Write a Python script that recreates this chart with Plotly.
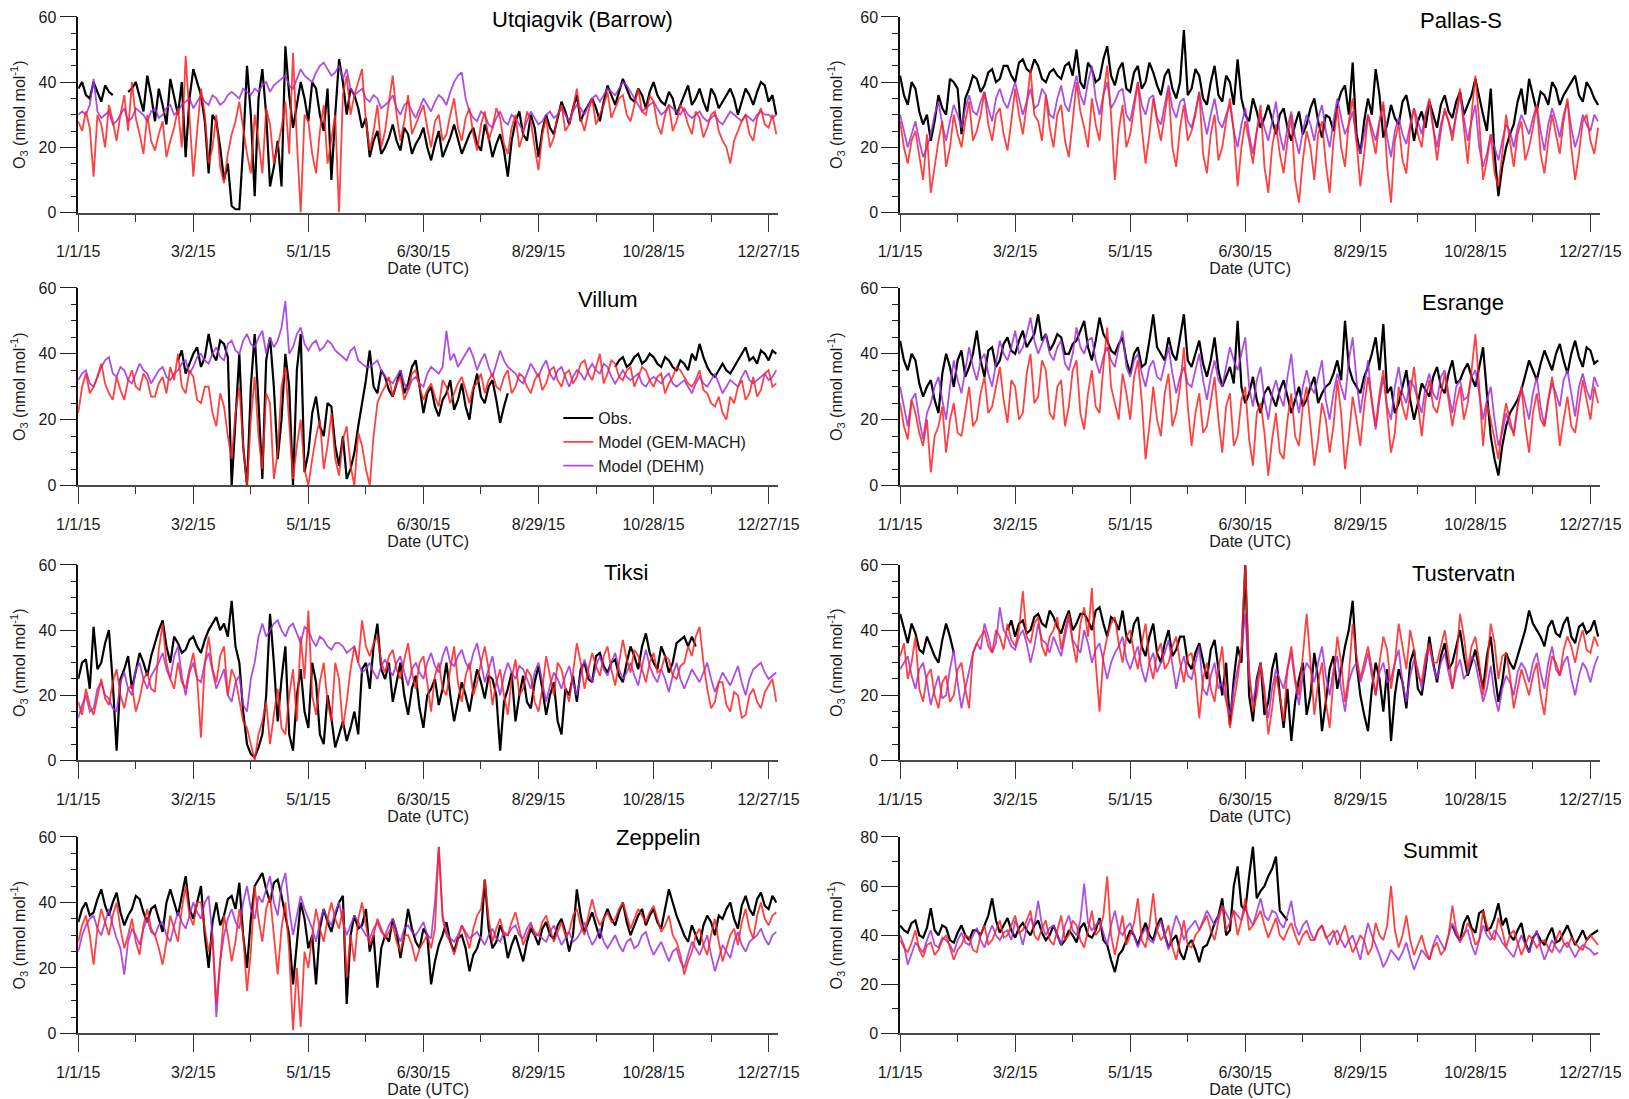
import pandas as pd
import plotly.graph_objects as go

# 2-day sampling of the hourly O3 records
dates = pd.date_range("2015-01-01", periods=183, freq="2D")
N = None

barrow_obs = [38, 40, 36, 35, 40, 37, 34, 39, 37, 36, N, N, N, 37, 38, 40, 35, 31, 42, 36,
              28, 38, 33, 27, 41, 36, 30, 40, 17, 35, 44, 40, 36, 28, 12, 30, 28, 20, 10, 15,
              2, 1, 1, 20, 45, 30, 5, 35, 44, 30, 8, 14, 22, 8, 51, 36, 26, 33, 40, 35,
              28, 40, 38, 30, 25, 38, 10, 30, 47, 40, 30, 38, 36, 32, 26, 29, 17, 22, 25, 18,
              20, 23, 27, 22, 19, 26, 24, 18, 21, 23, 26, 20, 16, 21, 25, 17, 20, 23, 27, 22,
              18, 21, 24, 26, 21, 19, 27, 23, 17, 21, 24, 19, 11, 22, 28, 31, 24, 22, 30, 26,
              17, 25, 30, 26, 24, 29, 34, 31, 27, 32, 36, 28, 31, 33, 35, 32, 28, 34, 39, 36,
              33, 37, 41, 38, 35, 34, 38, 36, 32, 37, 40, 36, 34, 33, 37, 35, 30, 33, 36, 39,
              33, 35, 38, 34, 31, 38, 36, 32, 34, 36, 38, 35, 30, 34, 38, 36, 33, 37, 40, 39,
              34, 36, 30]
barrow_gem = [28, 25, 31, 26, 11, 30, 27, 20, 33, 28, 22, 30, 36, 25, 40, 29, 24, 18, 30, 22,
              19, 24, 28, 17, 22, 26, 32, 20, 48, 30, 11, 25, 38, 30, 15, 20, 30, 14, 9, 18,
              24, 28, 34, 26, 18, 12, 30, 22, 12, 32, 27, 15, 20, 26, 34, 18, 49, 22, 0, 30,
              28, 18, 12, 25, 33, 15, 22, 30, 0, 36, 42, 30, 36, 40, 44, 28, 19, 25, 33, 20,
              25, 34, 42, 30, 22, 28, 36, 24, 27, 30, 33, 26, 20, 28, 30, 22, 24, 30, 35, 26,
              22, 29, 32, 24, 19, 27, 31, 22, 26, 32, 29, 21, 18, 26, 30, 20, 24, 31, 28, 20,
              13, 24, 29, 20, 23, 30, 33, 25, 27, 32, 38, 29, 25, 31, 35, 27, 30, 33, 37, 29,
              32, 35, 36, 30, 28, 33, 38, 31, 30, 36, 34, 27, 24, 30, 33, 25, 28, 33, 31, 27,
              24, 31, 29, 23, 26, 30, 31, 25, 22, 20, 15, 22, 25, 28, 30, 24, 22, 29, 32, 27,
              26, 30, 24]
barrow_dehm = [30, 31, 30, 33, 41, 31, 29, 30, 31, 27, 28, 30, 32, 28, 29, 32, 31, 30, 28, 31,
               32, 29, 30, 32, 33, 30, 31, 33, 34, 35, 32, 34, 36, 34, 33, 36, 35, 33, 34, 36,
               37, 36, 35, 38, 37, 36, 38, 37, 39, 40, 37, 39, 40, 41, 42, 39, 38, 41, 44, 42,
               41, 40, 43, 45, 46, 44, 42, 43, 45, 41, 44, 38, 36, 37, 38, 35, 34, 36, 35, 32,
               33, 34, 36, 32, 30, 33, 34, 31, 29, 32, 35, 33, 31, 34, 36, 35, 33, 37, 40, 42,
               43, 35, 31, 29, 28, 31, 30, 27, 26, 29, 31, 28, 27, 30, 29, 27, 25, 28, 31, 29,
               27, 28, 30, 31, 29, 30, 32, 30, 28, 31, 33, 32, 30, 33, 35, 36, 34, 36, 38, 37,
               36, 38, 40, 39, 37, 35, 33, 31, 32, 33, 34, 32, 30, 31, 33, 32, 31, 30, 32, 30,
               29, 30, 31, 29, 28, 29, 30, 28, 27, 29, 31, 30, 29, 28, 30, 29, 28, 30, 31, 30,
               30, 29, 30]

pallas_obs = [42, 36, 33, 40, 38, 31, 27, 30, 22, 28, 36, 32, 30, 41, 40, 38, 24, 35, 38, 42,
              41, 37, 39, 43, 44, 40, 41, 45, 45, 42, 40, 46, 47, 44, 43, 47, 45, 41, 40, 43,
              44, 42, 41, 45, 46, 42, 50, 40, 38, 46, 44, 40, 41, 47, 51, 42, 39, 44, 46, 38,
              37, 43, 45, 38, 40, 46, 43, 39, 36, 42, 44, 38, 35, 40, 56, 36, 38, 44, 42, 35,
              33, 40, 45, 36, 34, 42, 40, 33, 47, 35, 30, 28, 35, 31, 26, 29, 33, 28, 24, 30,
              32, 26, 22, 27, 31, 24, 27, 32, 35, 28, 23, 30, 29, 25, 33, 37, 39, 30, 46, 24,
              18, 28, 35, 30, 44, 36, 23, 27, 33, 29, 27, 34, 36, 30, 22, 28, 31, 26, 34, 30,
              26, 33, 36, 31, 29, 34, 37, 30, 33, 36, 41, 35, 30, 25, 38, 18, 5, 14, 20, 24,
              27, 34, 38, 30, 41, 36, 31, 37, 36, 33, 40, 38, 33, 36, 38, 40, 42, 36, 34, 40,
              38, 35, 33]
pallas_gem = [28, 20, 15, 22, 25, 17, 10, 24, 6, 14, 22, 28, 14, 20, 30, 24, 20, 28, 34, 22,
              25, 30, 37, 27, 22, 30, 32, 24, 19, 28, 38, 30, 24, 33, 44, 30, 28, 22, 36, 26,
              20, 30, 33, 22, 17, 28, 40, 31, 26, 20, 35, 27, 22, 36, 45, 30, 10, 25, 33, 20,
              24, 32, 40, 26, 15, 24, 35, 28, 22, 30, 38, 20, 14, 26, 33, 22, 25, 30, 37, 18,
              12, 24, 30, 16, 20, 28, 35, 25, 8, 20, 28, 22, 15, 25, 33, 14, 6, 20, 27, 18,
              12, 22, 30, 10, 3, 16, 25, 20, 10, 24, 28, 15, 6, 22, 32, 20, 14, 28, 35, 22,
              8, 18, 30, 24, 18, 28, 34, 14, 3, 22, 27, 16, 12, 26, 32, 24, 20, 30, 35, 26,
              16, 25, 32, 28, 22, 30, 38, 26, 15, 30, 42, 28, 10, 16, 24, 12, 8, 18, 30, 22,
              14, 24, 28, 16, 20, 26, 33, 18, 12, 22, 30, 24, 18, 28, 35, 20, 10, 18, 28, 30,
              22, 18, 26]
pallas_dehm = [30, 25, 20, 24, 28, 22, 17, 20, 24, 30, 34, 27, 22, 28, 33, 30, 26, 32, 36, 31,
               30, 34, 37, 32, 28, 35, 38, 34, 32, 36, 40, 35, 30, 34, 38, 32, 33, 38, 36, 30,
               29, 35, 39, 33, 31, 37, 42, 36, 33, 40, 45, 35, 30, 36, 40, 32, 34, 37, 38, 30,
               28, 34, 40, 33, 30, 35, 36, 29, 27, 33, 39, 32, 29, 34, 35, 28, 26, 31, 37, 30,
               24, 30, 35, 28, 26, 30, 33, 25, 20, 27, 32, 24, 18, 25, 30, 26, 22, 28, 34, 24,
               19, 26, 31, 23, 18, 25, 30, 27, 22, 29, 33, 25, 20, 28, 35, 29, 24, 27, 31, 22,
               18, 24, 30, 26, 22, 28, 33, 23, 17, 25, 29, 24, 21, 27, 32, 28, 24, 30, 34, 26,
               20, 27, 31, 28, 24, 30, 36, 29, 22, 28, 33, 20, 14, 18, 24, 20, 16, 22, 27, 25,
               20, 26, 30, 27, 24, 29, 33, 25, 19, 27, 32, 28, 23, 30, 34, 26, 20, 24, 30, 27,
               25, 30, 28]

villum_obs = ([N] * 26 +
              [38, 41, 34, 37, 40, 42, 36, 39, 46, 40, 38, 44, 43, 39, 0, 20, 40, 12, 0, 30,
               46, 25, 2, 38, 45, 30, 8, 20, 40, 30, 0, 35, 46, 4, 10, 22, 27, 18, 15, 25,
               24, 12, 6, 15, 2, 5, 10, 18, 25, 32, 41, 30, 28, 35, 33, 29, 27, 31, 35, 28,
               31, 36, 38, 30, 22, 28, 30, 24, 21, 26, 28, 32, 23, 26, 31, 24, 20, 29, 34, 27,
               25, 30, 32, 26, 19, 24, 28] +
              [N] * 27 +
              [36, 38, 39, 36, 37, 39, 40, 37, 38, 40, 39, 37, 36, 39, 38, 36, 35, 38, 37, 35,
               40, 38, 43, 39, 36, 34, 33, 35, 37, 35, 34, 36, 38, 40, 42, 38, 39, 37, 41, 40,
               38, 41, 40])
villum_gem = [22, 30, 34, 28, 30, 33, 37, 31, 28, 26, 33, 29, 26, 32, 35, 30, 29, 34, 32, 27,
              27, 31, 33, 28, 36, 32, 40, 30, 28, 35, 33, 26, 25, 30, 30, 22, 18, 28, 24, 15,
              8, 22, 30, 12, 0, 20, 33, 15, 5, 28, 25, 2, 10, 30, 36, 18, 2, 12, 20, 5,
              0, 8, 15, 20, 5, 12, 22, 8, 3, 14, 18, 6, 0, 16, 12, 5, 0, 15, 25, 28,
              30, 33, 27, 31, 33, 26, 29, 34, 35, 30, 26, 29, 31, 27, 24, 32, 30, 25, 28, 31,
              33, 29, 25, 30, 31, 34, 28, 32, 34, 30, 29, 33, 35, 28, 30, 34, 33, 30, 28, 32,
              34, 29, 31, 35, 36, 32, 30, 34, 35, 31, 33, 37, 38, 34, 32, 36, 40, 31, 34, 38,
              37, 33, 32, 35, 36, 30, 33, 36, 35, 32, 30, 33, 34, 28, 31, 33, 36, 35, 33, 31,
              30, 32, 35, 29, 28, 25, 24, 27, 22, 20, 27, 25, 30, 32, 26, 28, 33, 27, 29, 34,
              35, 30, 31]
villum_dehm = [32, 34, 35, 31, 30, 33, 36, 38, 39, 34, 33, 36, 35, 32, 31, 34, 37, 35, 34, 31,
               33, 35, 36, 33, 32, 34, 35, 37, 38, 34, 36, 39, 40, 38, 37, 40, 42, 39, 38, 43,
               44, 41, 40, 44, 46, 43, 42, 45, 47, 40, 45, 42, 44, 48, 56, 40, 42, 46, 48, 43,
               41, 43, 44, 41, 42, 44, 43, 41, 40, 39, 38, 41, 42, 38, 37, 36, 36, 37, 38, 35,
               33, 32, 31, 33, 35, 31, 29, 32, 33, 31, 30, 34, 36, 35, 34, 36, 47, 38, 40, 36,
               38, 40, 42, 39, 35, 38, 40, 36, 33, 37, 41, 38, 36, 35, 34, 32, 31, 34, 37, 35,
               33, 36, 38, 34, 32, 35, 36, 33, 30, 33, 35, 34, 32, 35, 37, 35, 34, 37, 36, 33,
               31, 33, 35, 33, 32, 33, 34, 31, 30, 32, 33, 32, 31, 33, 34, 31, 30, 31, 32, 30,
               28, 31, 33, 31, 30, 32, 34, 31, 28, 30, 32, 31, 30, 33, 35, 32, 31, 32, 33, 34,
               32, 33, 35]

esrange_obs = [44, 38, 35, 40, 38, 31, 27, 30, 32, 26, 22, 34, 40, 36, 30, 38, 41, 33, 36, 40,
               47, 38, 33, 41, 42, 36, 38, 43, 45, 41, 40, 44, 47, 42, 44, 46, 52, 44, 46, 41,
               43, 46, 45, 40, 40, 43, 44, 47, 50, 42, 38, 44, 51, 46, 44, 41, 40, 43, 45, 38,
               34, 40, 42, 36, 37, 44, 52, 42, 40, 38, 45, 40, 38, 45, 52, 38, 36, 40, 44, 37,
               33, 38, 45, 35, 30, 33, 36, 31, 50, 30, 25, 28, 33, 26, 22, 28, 30, 27, 24, 29,
               32, 27, 22, 26, 30, 24, 26, 30, 33, 25, 28, 30, 31, 34, 38, 32, 50, 36, 32, 30,
               28, 33, 36, 40, 45, 35, 49, 28, 30, 22, 25, 30, 35, 26, 20, 25, 31, 29, 27, 33,
               36, 30, 28, 34, 38, 31, 32, 35, 37, 33, 30, 36, 42, 28, 15, 8, 3, 12, 18, 22,
               24, 26, 29, 34, 38, 35, 32, 37, 41, 38, 35, 40, 43, 38, 34, 40, 44, 39, 36, 42,
               41, 37, 38]
esrange_gem = [25, 18, 14, 26, 22, 16, 12, 20, 4, 15, 18, 24, 10, 20, 25, 16, 15, 22, 30, 18,
               20, 28, 33, 22, 24, 30, 36, 26, 19, 32, 30, 20, 22, 34, 40, 25, 27, 38, 35, 22,
               20, 30, 32, 18, 24, 35, 38, 22, 17, 28, 35, 24, 22, 36, 48, 30, 25, 20, 34, 28,
               20, 33, 38, 26, 8, 18, 30, 20, 15, 28, 34, 18, 22, 30, 42, 24, 12, 22, 28, 16,
               18, 26, 33, 20, 10, 24, 28, 12, 15, 26, 30, 14, 6, 22, 25, 16, 3, 14, 22, 10,
               8, 20, 28, 15, 12, 24, 30, 18, 6, 14, 25, 20, 10, 18, 32, 22, 5, 15, 27, 20,
               12, 24, 33, 26, 18, 28, 35, 22, 10, 16, 30, 24, 20, 28, 36, 25, 15, 26, 32, 24,
               22, 28, 34, 26, 18, 25, 30, 20, 25, 35, 46, 30, 12, 25, 20, 14, 8, 18, 25, 20,
               15, 24, 30, 18, 10, 22, 28, 20, 18, 26, 33, 25, 12, 20, 27, 18, 16, 24, 32, 26,
               20, 30, 25]
esrange_dehm = [30, 24, 18, 26, 28, 20, 14, 22, 25, 30, 33, 26, 20, 30, 38, 32, 28, 35, 42, 36,
                32, 38, 40, 34, 30, 37, 44, 40, 38, 42, 47, 40, 42, 46, 51, 44, 40, 43, 46, 40,
                38, 42, 44, 37, 35, 40, 48, 42, 40, 44, 45, 38, 34, 39, 42, 38, 36, 42, 47, 36,
                33, 38, 40, 34, 30, 36, 38, 33, 32, 37, 42, 34, 28, 33, 36, 31, 30, 35, 40, 32,
                26, 33, 38, 32, 30, 36, 42, 38, 35, 40, 45, 30, 24, 32, 36, 26, 20, 28, 32, 27,
                24, 33, 40, 28, 22, 30, 35, 30, 28, 33, 38, 26, 20, 28, 34, 30, 26, 38, 45, 32,
                22, 30, 38, 25, 17, 26, 33, 24, 20, 30, 36, 28, 25, 32, 30, 26, 22, 30, 34, 28,
                26, 33, 35, 28, 22, 30, 32, 26, 27, 33, 35, 28, 20, 26, 30, 20, 12, 16, 22, 18,
                16, 24, 30, 25, 20, 28, 33, 24, 18, 26, 31, 28, 24, 32, 35, 28, 21, 30, 34, 29,
                26, 33, 30]

tiksi_obs = ([25, 30, 31, 22, 41, 28, 30, 36, 40, 24, 3, 25, 28, 32, 22, 27, 33, 30, 26, 32,
              36, 40, 43, 35, 30, 38, 36, 33, 34, 37, 38, 35, 33, 37, 40, 42, 44, 40, 42, 38,
              49, 35, 30, 15, 5, 2, 1, 4, 8, 20, 45, 30, 12, 25, 35, 8, 3, 20, 28, 15,
              10, 30, 24, 8, 5, 20, 13, 4, 8, 12, 6, 10, 15, 8, 28, 30, 22, 35, 42, 28,
              25, 30, 18, 24, 30, 20, 14, 22, 26, 16, 10, 20, 22, 25, 17, 22, 30, 20, 12, 18,
              24, 20, 15, 22, 28, 24, 19, 26, 25, 20, 3, 18, 22, 27, 12, 20, 26, 18, 16, 24,
              29, 22, 14, 20, 24, 12, 8, 22, 20, 26, 18, 28, 30, 25, 24, 32, 33, 29, 27, 30,
              31, 26, 24, 30, 35, 32, 28, 35, 39, 33, 30, 28, 35, 32, 27, 30, 36, 37, 38, 35,
              38, 35] + [N] * 21)
tiksi_gem = [18, 14, 22, 17, 14, 20, 25, 19, 17, 24, 28, 20, 16, 22, 23, 15, 19, 25, 27, 22,
             21, 34, 42, 30, 25, 22, 30, 24, 22, 28, 33, 25, 7, 30, 38, 28, 24, 32, 35, 20,
             28, 25, 18, 12, 10, 5, 0, 8, 12, 18, 5, 14, 22, 10, 8, 20, 28, 12, 38, 25,
             46, 20, 14, 24, 30, 18, 12, 30, 25, 10, 18, 28, 35, 30, 43, 35, 32, 36, 38, 30,
             27, 32, 34, 28, 25, 31, 36, 27, 22, 30, 32, 24, 15, 26, 30, 22, 20, 28, 35, 24,
             18, 26, 30, 20, 24, 30, 35, 28, 17, 24, 28, 20, 14, 25, 31, 20, 22, 28, 26, 18,
             15, 22, 32, 26, 20, 30, 28, 22, 18, 27, 36, 30, 22, 28, 33, 29, 26, 32, 35, 28,
             23, 30, 37, 31, 27, 34, 32, 28, 24, 30, 33, 27, 28, 32, 31, 26, 25, 29, 30, 35,
             32, 38, 41, 30, 22, 16, 18, 24, 24, 17, 15, 21, 20, 13, 14, 20, 22, 18, 16, 21,
             23, 25, 18]
tiksi_dehm = [13, 17, 20, 15, 16, 22, 24, 20, 19, 16, 15, 24, 27, 22, 20, 28, 30, 25, 22, 26,
              28, 30, 33, 28, 25, 32, 35, 26, 20, 27, 30, 25, 24, 30, 33, 27, 22, 25, 28, 20,
              18, 24, 26, 17, 15, 25, 30, 38, 42, 38, 40, 42, 43, 40, 38, 41, 42, 39, 36, 41,
              40, 37, 35, 38, 37, 35, 34, 36, 36, 35, 33, 34, 35, 30, 27, 28, 30, 27, 25, 29,
              31, 28, 26, 30, 32, 27, 23, 28, 30, 27, 25, 30, 33, 29, 27, 32, 35, 30, 29, 32,
              34, 30, 28, 33, 36, 30, 24, 28, 32, 25, 20, 26, 30, 27, 25, 29, 28, 25, 22, 27,
              30, 24, 18, 23, 27, 25, 22, 26, 29, 24, 20, 26, 31, 27, 24, 29, 32, 28, 26, 30,
              33, 28, 25, 27, 30, 26, 23, 29, 34, 29, 26, 24, 28, 25, 21, 26, 30, 25, 22, 25,
              28, 26, 24, 27, 30, 25, 21, 24, 27, 25, 23, 26, 29, 24, 20, 25, 28, 29, 30, 27,
              25, 26, 27]

tuster_obs = [45, 40, 36, 42, 39, 34, 33, 38, 35, 32, 30, 37, 42, 38, 33, N, N, N, N, N,
              N, N, N, N, N, N, N, N, 40, 43, 38, 42, 43, 39, 40, 44, 45, 42, 41, 46,
              44, 41, 39, 43, 46, 40, 42, 45, 45, 43, 40, 46, 47, 42, 38, 44, 43, 40, 46, 38,
              36, 42, 44, 35, 32, 38, 42, 33, 30, 36, 40, 32, 34, 38, 38, 30, 28, 33, 36, 30,
              25, 34, 37, 28, 20, 30, 11, 25, 35, 30, 60, 20, 12, 25, 30, 14, 18, 28, 33, 20,
              10, 22, 6, 18, 25, 30, 14, 20, 33, 25, 9, 18, 28, 32, 22, 28, 35, 40, 49, 30,
              20, 14, 9, 22, 30, 25, 15, 28, 6, 20, 28, 24, 16, 30, 34, 22, 20, 28, 38, 30,
              24, 32, 36, 28, 30, 35, 40, 32, 26, 30, 34, 28, 22, 32, 38, 27, 18, 24, 33, 30,
              28, 32, 36, 40, 46, 42, 40, 38, 35, 41, 43, 39, 38, 42, 44, 38, 36, 41, 42, 39,
              40, 43, 38]
tuster_gem = [32, 36, 25, 30, 38, 22, 18, 26, 28, 20, 16, 24, 26, 18, 20, 28, 30, 22, 16, 33,
              36, 38, 40, 35, 33, 40, 38, 34, 42, 37, 35, 40, 52, 38, 36, 42, 44, 35, 32, 38,
              40, 44, 34, 40, 45, 36, 30, 42, 47, 38, 53, 30, 15, 32, 38, 42, 44, 36, 30, 38,
              40, 33, 28, 36, 42, 30, 25, 33, 36, 28, 30, 35, 38, 30, 24, 32, 33, 26, 13, 25,
              30, 22, 18, 28, 35, 20, 10, 18, 25, 35, 60, 28, 15, 20, 30, 22, 8, 16, 26, 20,
              12, 28, 35, 25, 20, 32, 45, 30, 14, 24, 30, 18, 10, 25, 38, 30, 18, 26, 42, 32,
              25, 30, 35, 28, 20, 30, 38, 34, 22, 30, 42, 35, 28, 40, 34, 26, 24, 32, 36, 30,
              30, 35, 40, 32, 22, 30, 45, 38, 28, 35, 38, 30, 20, 28, 42, 36, 25, 32, 33, 26,
              16, 22, 28, 24, 20, 26, 30, 20, 14, 25, 32, 30, 26, 34, 38, 35, 30, 36, 40, 34,
              33, 38, 35]
tuster_dehm = [28, 30, 32, 26, 22, 28, 30, 24, 17, 22, 26, 19, 20, 28, 34, 24, 16, 22, 28, 33,
               36, 34, 42, 38, 33, 36, 47, 40, 38, 35, 34, 38, 40, 36, 30, 35, 42, 37, 36, 33,
               38, 35, 32, 38, 44, 37, 35, 33, 40, 36, 30, 34, 36, 30, 25, 30, 33, 35, 38, 31,
               28, 32, 35, 28, 24, 30, 33, 27, 30, 33, 37, 30, 22, 28, 32, 26, 25, 30, 35, 22,
               20, 26, 30, 22, 24, 18, 14, 22, 28, 34, 45, 25, 18, 24, 30, 20, 13, 22, 28, 25,
               22, 28, 33, 24, 17, 26, 30, 28, 24, 30, 35, 26, 20, 28, 32, 22, 15, 24, 28, 30,
               24, 28, 33, 26, 20, 27, 30, 24, 25, 30, 34, 24, 18, 26, 31, 28, 22, 30, 35, 29,
               25, 30, 33, 27, 22, 28, 31, 25, 27, 32, 30, 24, 18, 22, 29, 20, 15, 22, 26, 24,
               20, 27, 30, 28, 24, 30, 33, 27, 22, 30, 35, 28, 26, 30, 32, 25, 20, 26, 30, 28,
               24, 29, 32]

zepp_obs = [34, 38, 40, 36, 37, 41, 44, 39, 36, 40, 43, 37, 33, 36, 38, 42, 41, 37, 34, 38,
            39, 35, 31, 40, 44, 40, 36, 42, 48, 38, 35, 40, 45, 30, 20, 34, 40, 33, 36, 41,
            42, 38, 46, 30, 20, 35, 45, 47, 49, 44, 40, 46, 47, 42, 36, 30, 15, 28, 40, 35,
            26, 30, 15, 32, 38, 34, 31, 36, 40, 42, 9, 30, 36, 32, 33, 38, 25, 30, 14, 26,
            30, 28, 35, 31, 23, 30, 38, 32, 28, 26, 32, 30, 15, 22, 27, 30, 34, 28, 25, 29,
            30, 26, 19, 24, 26, 30, 47, 32, 26, 28, 33, 30, 23, 27, 30, 26, 22, 28, 32, 30,
            27, 32, 34, 30, 29, 33, 35, 31, 25, 30, 44, 36, 31, 34, 37, 33, 29, 35, 38, 35,
            33, 37, 40, 34, 30, 33, 36, 38, 33, 36, 38, 34, 32, 38, 44, 40, 36, 33, 30, 28,
            33, 30, 27, 33, 36, 34, 30, 36, 35, 38, 40, 35, 32, 39, 42, 38, 36, 41, 43, 39,
            38, 42, 40]
zepp_gem = [28, 33, 36, 30, 21, 32, 38, 34, 30, 36, 40, 32, 26, 30, 35, 28, 24, 33, 38, 32,
            30, 26, 21, 28, 36, 32, 28, 38, 45, 36, 33, 40, 40, 32, 25, 30, 9, 22, 36, 30,
            22, 28, 38, 30, 13, 25, 45, 35, 28, 38, 42, 30, 18, 32, 40, 25, 1, 20, 2, 25,
            20, 30, 38, 32, 28, 35, 40, 35, 32, 38, 17, 30, 22, 35, 40, 33, 27, 30, 35, 32,
            29, 31, 33, 28, 25, 30, 30, 27, 22, 26, 28, 30, 26, 32, 57, 35, 30, 28, 24, 29,
            33, 30, 26, 32, 36, 38, 47, 35, 28, 32, 35, 30, 30, 34, 37, 32, 27, 30, 33, 31,
            30, 34, 36, 32, 28, 31, 34, 30, 31, 36, 38, 33, 30, 36, 41, 36, 33, 35, 37, 34,
            35, 38, 40, 36, 32, 35, 38, 36, 34, 37, 39, 35, 31, 33, 36, 30, 28, 24, 18, 22,
            25, 30, 32, 27, 24, 30, 35, 28, 22, 26, 30, 32, 27, 34, 38, 32, 29, 36, 40, 35,
            33, 36, 37]
zepp_dehm = [25, 30, 33, 35, 36, 32, 30, 34, 38, 33, 29, 26, 18, 28, 32, 30, 27, 32, 35, 31,
             30, 33, 34, 30, 28, 33, 37, 34, 32, 36, 40, 37, 35, 40, 42, 30, 5, 22, 30, 35,
             38, 34, 32, 40, 45, 38, 35, 42, 40, 44, 48, 40, 36, 45, 49, 38, 30, 36, 42, 38,
             35, 32, 28, 34, 38, 35, 33, 37, 40, 34, 30, 33, 36, 34, 32, 30, 29, 32, 34, 31,
             30, 33, 35, 31, 28, 32, 33, 31, 30, 32, 34, 30, 29, 40, 57, 36, 31, 29, 28, 30,
             33, 31, 29, 30, 31, 29, 27, 30, 32, 29, 28, 31, 30, 32, 33, 30, 29, 32, 34, 30,
             30, 29, 28, 31, 33, 30, 27, 29, 31, 28, 29, 31, 34, 30, 27, 29, 32, 28, 26, 28,
             30, 27, 25, 28, 29, 26, 27, 30, 31, 27, 24, 26, 28, 25, 22, 25, 26, 22, 20, 24,
             28, 26, 24, 27, 30, 24, 19, 23, 27, 25, 23, 28, 31, 27, 25, 28, 29, 30, 32, 29,
             27, 30, 31]

summit_obs = ([44, 42, 41, 45, 46, 40, 39, 43, 51, 42, 40, 44, 43, 38, 37, 41, 44, 40, 38, 42,
               42, 40, 44, 48, 55, 46, 41, 44, 47, 42, 39, 43, 45, 42, 40, 44, 46, 41, 38, 40,
               44, 40, 36, 38, 42, 40, 37, 43, 45, 40, 39, 42, 47, 38, 36, 30, 25, 32, 34, 38,
               42, 40, 36, 41, 45, 40, 38, 44, 47, 40, 35, 38, 40, 33, 30, 36, 38, 34, 29, 35,
               36, 40, 45, 48, 55, 40, 42, 60, 68, 52, 50, 64, 76, 55, 58, 60, 64, 67, 72, 50,
               48, 46] +
              [N] * 42 +
              [44, 40, 38, 45, 48, 43, 41, 49, 50, 42, 43, 47, 53, 44, 47, 40, 38, 42, 45, 37,
               33, 39, 41, 38, 36, 40, 43, 37, 38, 41, 44, 40, 36, 39, 42, 38, 40, 41, 42])
summit_gem = [38, 35, 33, 37, 42, 34, 31, 36, 37, 32, 34, 38, 40, 35, 30, 34, 36, 40, 39, 34,
              33, 40, 44, 36, 38, 42, 46, 39, 40, 44, 48, 41, 42, 46, 50, 40, 38, 43, 46, 38,
              36, 42, 48, 38, 40, 46, 44, 38, 35, 42, 50, 40, 42, 48, 64, 40, 32, 40, 48, 36,
              40, 45, 55, 38, 35, 44, 57, 42, 38, 40, 44, 35, 30, 38, 46, 36, 35, 40, 42, 45,
              48, 42, 38, 46, 52, 42, 45, 50, 40, 46, 55, 42, 44, 47, 50, 44, 39, 43, 47, 40,
              38, 42, 45, 40, 36, 40, 42, 38, 38, 42, 44, 39, 40, 42, 36, 40, 44, 38, 33, 36,
              40, 38, 32, 35, 45, 40, 38, 44, 60, 42, 35, 40, 48, 38, 32, 36, 40, 34, 30, 35,
              37, 32, 34, 40, 52, 42, 38, 40, 45, 42, 36, 38, 50, 44, 40, 38, 47, 42, 35, 40,
              42, 37, 32, 36, 40, 38, 35, 37, 38, 35, 33, 38, 42, 37, 35, 39, 37, 35, 34, 38,
              40, 38, 36]
summit_dehm = [40, 36, 28, 33, 37, 35, 33, 38, 42, 36, 35, 39, 38, 36, 33, 38, 41, 37, 36, 40,
               43, 38, 35, 40, 44, 40, 38, 41, 42, 38, 46, 42, 36, 43, 47, 44, 54, 44, 40, 43,
               44, 40, 36, 44, 48, 42, 40, 46, 61, 45, 42, 44, 46, 41, 36, 44, 50, 42, 40, 43,
               45, 40, 35, 40, 43, 38, 37, 42, 46, 40, 34, 42, 48, 44, 38, 42, 44, 46, 42, 46,
               50, 47, 44, 48, 52, 49, 46, 50, 48, 46, 51, 47, 44, 49, 55, 48, 46, 50, 49, 45,
               43, 48, 54, 44, 40, 44, 46, 41, 38, 42, 44, 40, 36, 40, 42, 38, 35, 38, 40, 35,
               30, 38, 45, 40, 36, 32, 27, 30, 34, 32, 30, 33, 37, 31, 26, 30, 34, 32, 30, 36,
               40, 37, 34, 40, 45, 40, 37, 41, 42, 36, 32, 38, 44, 40, 38, 42, 40, 37, 35, 33,
               31, 36, 40, 36, 33, 38, 42, 35, 30, 34, 38, 35, 33, 36, 37, 34, 31, 34, 36, 35,
               34, 32, 33]

stations = ["Utqiagvik (Barrow)", "Pallas-S", "Villum", "Esrange",
            "Tiksi", "Tustervatn", "Zeppelin", "Summit"]
obs_series = [barrow_obs, pallas_obs, villum_obs, esrange_obs,
              tiksi_obs, tuster_obs, zepp_obs, summit_obs]
gem_series = [barrow_gem, pallas_gem, villum_gem, esrange_gem,
              tiksi_gem, tuster_gem, zepp_gem, summit_gem]
dehm_series = [barrow_dehm, pallas_dehm, villum_dehm, esrange_dehm,
               tiksi_dehm, tuster_dehm, zepp_dehm, summit_dehm]
y_max = [60, 60, 60, 60, 60, 60, 60, 80]

for k in range(8):
    for tag, s in (("obs", obs_series[k]), ("gem", gem_series[k]), ("dehm", dehm_series[k])):
        if len(s) != len(dates):
            raise ValueError(f"{stations[k]} {tag}: {len(s)} values")

# layout measured on the 1629x1099 page; the page body adds an 8 px margin,
# so the figure is drawn 8 px smaller and positions are kept as fractions
REF_W, REF_H = 1629, 1099
W, H = REF_W - 8, REF_H - 8
FONT = "Liberation Sans, Arial, sans-serif"
col_px = [(70.6, 774.0), (896.5, 1599.9)]
row_px = [(9, 206), (282, 481), (561, 758), (835, 1033)]
title_px = [(577, 12), (1460, 13), (603, 294), (1462, 297),
            (621, 569), (1463, 570), (653, 836), (1440, 849)]


def px_x(v):
    return v / REF_W


def px_y(v):
    return 1 - v / REF_H


OBS_C = "#000000"
GEM_C = "#ff2020"
DEHM_C = "#a030e0"

fig = go.Figure()
layout = {}
annotations = []

for k, name in enumerate(stations):
    r, c = divmod(k, 2)
    ax = "" if k == 0 else str(k + 1)
    xref, yref = "x" + ax, "y" + ax
    first = k == 0

    fig.add_trace(go.Scatter(
        x=dates, y=obs_series[k], xaxis=xref, yaxis=yref, mode="lines",
        line=dict(color=OBS_C, width=2.2), name="Obs.", legendgroup="obs",
        legendrank=1, showlegend=first))
    fig.add_trace(go.Scatter(
        x=dates, y=dehm_series[k], xaxis=xref, yaxis=yref, mode="lines",
        line=dict(color=DEHM_C, width=1.8), opacity=0.85, name="Model (DEHM)",
        legendgroup="dehm", legendrank=3, showlegend=first))
    fig.add_trace(go.Scatter(
        x=dates, y=gem_series[k], xaxis=xref, yaxis=yref, mode="lines",
        line=dict(color=GEM_C, width=1.8), opacity=0.85, name="Model (GEM-MACH)",
        legendgroup="gem", legendrank=2, showlegend=first))

    x0, x1 = col_px[c]
    top, bot = row_px[r]
    layout["xaxis" + ax] = dict(
        domain=[px_x(x0), px_x(x1)], anchor=yref, automargin=False,
        range=["2015-01-01", "2016-01-01"],
        tickmode="linear", tick0="2015-01-01", dtick=60 * 86400000,
        tickformat="%-m/%-d/%y", ticks="outside", ticklen=17, tickwidth=1,
        tickcolor="#333333", ticklabelstandoff=6,
        minor=dict(tick0="2015-01-01", dtick=30 * 86400000, ticks="outside",
                   ticklen=7, tickwidth=1, tickcolor="#333333"),
        showline=True, linecolor="#4a4a4a", linewidth=2,
        showgrid=False, zeroline=False,
        tickfont=dict(family=FONT, size=16, color="#1a1a1a"),
        title=dict(text="Date (UTC)", standoff=2,
                   font=dict(family=FONT, size=16, color="#1a1a1a")))
    layout["yaxis" + ax] = dict(
        domain=[px_y(bot), px_y(top)], anchor=xref, automargin=False,
        range=[0, y_max[k]], tickmode="linear", tick0=0, dtick=20,
        ticks="outside", ticklen=17, tickwidth=1, tickcolor="#222222",
        minor=dict(dtick=10 if y_max[k] == 80 else 5, ticks="outside",
                   ticklen=6, tickwidth=1, tickcolor="#222222"),
        showline=True, linecolor="#111111", linewidth=1.5,
        showgrid=False, zeroline=False,
        tickfont=dict(family=FONT, size=16, color="#1a1a1a"),
        title=dict(text="O<sub>3</sub> (nmol mol<sup>-1</sup>)", standoff=14,
                   font=dict(family=FONT, size=16, color="#1a1a1a")))

    tx, ty = title_px[k]
    annotations.append(dict(
        text=name, x=px_x(tx), y=px_y(ty), xref="paper", yref="paper",
        xanchor="center", yanchor="middle", showarrow=False,
        font=dict(family=FONT, size=22, color="#000000")))

fig.update_layout(
    width=W, height=H,
    margin=dict(l=0, r=0, t=0, b=0),
    paper_bgcolor="white", plot_bgcolor="white",
    font=dict(family=FONT, size=16, color="#1a1a1a"),
    annotations=annotations,
    legend=dict(x=px_x(553), y=px_y(396), xanchor="left", yanchor="top",
                bgcolor="rgba(0,0,0,0)", borderwidth=0,
                font=dict(family=FONT, size=16, color="#1a1a1a"),
                tracegroupgap=0),
    **layout,
)

fig.write_html("out.html")
